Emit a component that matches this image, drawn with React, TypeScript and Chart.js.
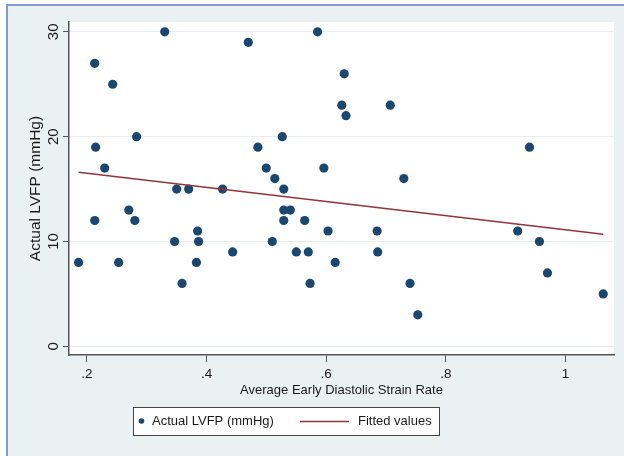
import React, { useEffect, useRef } from "react";
import { Chart, registerables } from "chart.js";

Chart.register(...registerables);

// Average early diastolic strain rate (x) and actual LVFP in mmHg (y)
const strainRate = [
  0.186, 0.213, 0.2145, 0.213, 0.2296, 0.243, 0.253, 0.27, 0.28, 0.283,
  0.33, 0.3465, 0.35, 0.359, 0.37, 0.383, 0.385, 0.3866, 0.4267, 0.4435,
  0.4697, 0.4857, 0.4997, 0.5098, 0.514, 0.5265, 0.529, 0.529, 0.529, 0.54,
  0.55, 0.564, 0.57, 0.573, 0.5855, 0.596, 0.603, 0.615, 0.626, 0.63,
  0.633, 0.685, 0.686, 0.707, 0.7297, 0.74, 0.753, 0.92, 0.9397, 0.9564,
  0.9698, 1.063,
];
const actualLVFP = [
  8, 27, 19, 12, 17, 25, 8, 13, 12, 20,
  30, 10, 15, 6, 15, 8, 11, 10, 15, 9,
  29, 19, 17, 10, 16, 20, 15, 13, 12, 13,
  9, 12, 9, 6, 30, 17, 11, 8, 23, 26,
  22, 11, 9, 23, 16, 6, 3, 11, 19, 10,
  7, 5,
];

// Fitted values line endpoints
const fittedX = [0.186, 1.063];
const fittedY = [16.6, 10.7];

const xTickValues = [0.2, 0.4, 0.6, 0.8, 1.0];
const xTickLabels = [".2", ".4", ".6", ".8", "1"];
const yTickValues = [0, 10, 20, 30];
const yTickLabels = ["0", "10", "20", "30"];

const scatterLabel = "Actual LVFP (mmHg)";
const fittedLabel = "Fitted values";
const xTitle = "Average Early Diastolic Strain Rate";
const yTitle = "Actual LVFP (mmHg)";

const NAVY = "#1a476f";
const MAROON = "#90353b";
const FONT = "'Liberation Sans', Arial, Helvetica, sans-serif";

const backgroundPlugin = {
  id: "stataBackground",
  beforeDraw(chart: any) {
    const { ctx, chartArea, width, height } = chart;
    ctx.save();
    ctx.fillStyle = "#ffffff";
    ctx.fillRect(0, 0, width, height);
    ctx.fillStyle = "#eaf1f3";
    ctx.fillRect(6, 4, width - 6, height - 4);
    ctx.strokeStyle = "#7d9bd8";
    ctx.lineWidth = 2;
    ctx.beginPath();
    ctx.moveTo(6, 5);
    ctx.lineTo(width, 5);
    ctx.moveTo(7, 4);
    ctx.lineTo(7, height);
    ctx.stroke();
    ctx.fillStyle = "#ffffff";
    ctx.fillRect(
      chartArea.left,
      chartArea.top,
      chartArea.right - chartArea.left,
      chartArea.bottom - chartArea.top
    );
    ctx.restore();
  },
};

const legendPlugin = {
  id: "stataLegend",
  afterDraw(chart: any) {
    const { ctx } = chart;
    const ds = chart.data.datasets;
    const bx = 133.5, by = 407.5, bw = 306, bh = 28;
    const cy = by + bh / 2;
    ctx.save();
    ctx.fillStyle = "#ffffff";
    ctx.fillRect(bx, by, bw, bh);
    ctx.strokeStyle = "#444444";
    ctx.lineWidth = 1;
    ctx.strokeRect(bx, by, bw, bh);
    // marker
    ctx.fillStyle = ds[0].backgroundColor;
    ctx.beginPath();
    ctx.arc(141.5, cy - 0.5, 2.8, 0, Math.PI * 2);
    ctx.fill();
    ctx.font = `13px ${FONT}`;
    ctx.fillStyle = "#1a1a1a";
    ctx.textBaseline = "middle";
    ctx.textAlign = "left";
    ctx.fillText(ds[0].label, 152, cy);
    // line
    ctx.strokeStyle = ds[1].borderColor;
    ctx.lineWidth = 1.5;
    ctx.beginPath();
    ctx.moveTo(300, cy);
    ctx.lineTo(349, cy);
    ctx.stroke();
    ctx.fillText(ds[1].label, 358, cy);
    ctx.restore();
  },
};

export default function App() {
  const canvasRef = useRef<HTMLCanvasElement | null>(null);

  useEffect(() => {
    const canvas = canvasRef.current;
    if (!canvas) return;
    const chart = new Chart(canvas, {
      type: "scatter",
      data: {
        datasets: [
          {
            label: scatterLabel,
            data: strainRate.map((x, i) => ({ x, y: actualLVFP[i] })),
            backgroundColor: NAVY,
            borderColor: NAVY,
            borderWidth: 0,
            pointRadius: 4.6,
            showLine: false,
            order: 2,
          },
          {
            label: fittedLabel,
            type: "line",
            data: fittedX.map((x, i) => ({ x, y: fittedY[i] })),
            borderColor: MAROON,
            backgroundColor: MAROON,
            borderWidth: 1.5,
            pointRadius: 0,
            fill: false,
            order: 1,
          },
        ],
      } as any,
      options: {
        animation: false,
        responsive: false,
        devicePixelRatio: 1,
        layout: { padding: { left: 0, top: 22, right: 10, bottom: 51 } },
        plugins: {
          legend: { display: false },
          tooltip: { enabled: false },
        },
        scales: {
          x: {
            type: "linear",
            min: 0.17,
            max: 1.081,
            afterBuildTicks: (s: any) => {
              s.ticks = xTickValues.map((v) => ({ value: v }));
            },
            afterFit: (s: any) => {
              s.height = 50;
            },
            ticks: {
              callback: (_v: any, i: number) => xTickLabels[i],
              font: { family: FONT, size: 13.5 },
              color: "#1a1a1a",
              padding: 4,
              maxRotation: 0,
              minRotation: 0,
            },
            grid: {
              drawOnChartArea: false,
              tickColor: "#555555",
              tickLength: 7,
              lineWidth: 1,
            },
            border: { color: "#555555", width: 1.5 },
            title: {
              display: true,
              text: xTitle,
              font: { family: FONT, size: 13 },
              color: "#1a1a1a",
              padding: { top: 0, bottom: 7 },
            },
          },
          y: {
            type: "linear",
            min: -0.83,
            max: 30.94,
            afterBuildTicks: (s: any) => {
              s.ticks = yTickValues.map((v) => ({ value: v }));
            },
            afterFit: (s: any) => {
              s.width = 69;
            },
            ticks: {
              callback: (_v: any, i: number) => yTickLabels[i],
              font: { family: FONT, size: 15 },
              color: "#1a1a1a",
              padding: 1,
              minRotation: 90,
              maxRotation: 90,
              crossAlign: "center",
            },
            grid: {
              color: "#e6eef0",
              tickColor: "#555555",
              tickLength: 6,
              lineWidth: 1,
            },
            border: { color: "#555555", width: 1.5 },
            title: {
              display: true,
              text: yTitle,
              font: { family: FONT, size: 15.5 },
              color: "#1a1a1a",
              padding: { top: 26, bottom: 0 },
            },
          },
        },
      } as any,
      plugins: [backgroundPlugin, legendPlugin],
    });
    return () => chart.destroy();
  }, []);

  return (
    <div style={{ position: "absolute", left: 0, top: 0, width: 624, height: 456 }}>
      <canvas
        ref={canvasRef}
        width={624}
        height={456}
        style={{ display: "block", width: 624, height: 456 }}
      />
    </div>
  );
}
